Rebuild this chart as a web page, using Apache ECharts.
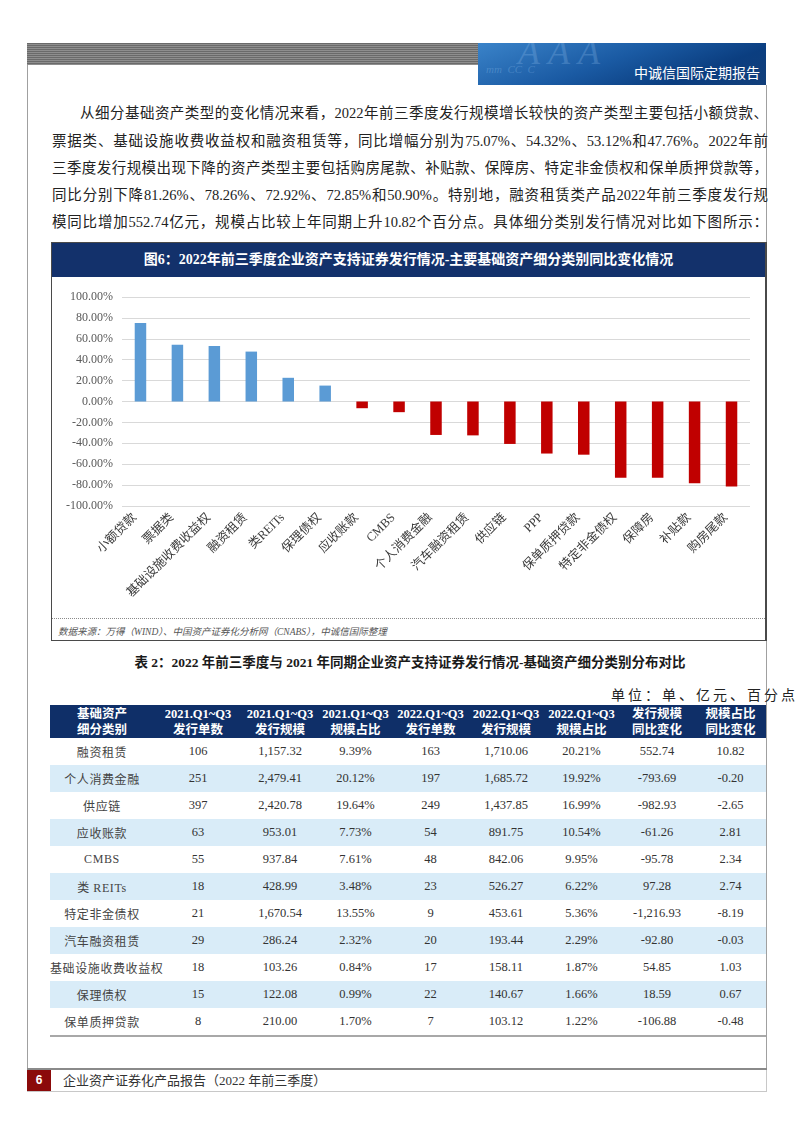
<!DOCTYPE html>
<html>
<head>
<meta charset="utf-8">
<script src="https://cdn.jsdelivr.net/npm/echarts@6/dist/echarts.min.js"></script>
<style>
  html, body { margin: 0; padding: 0; background: #fff; }
  body { width: 802px; height: 1133px; position: relative; overflow: hidden;
         font-family: 'Liberation Serif', 'Noto Sans CJK SC', serif; color: #222; }
  .abs { position: absolute; }
  .pline { position: absolute; left: 52px; width: 716px; height: 20px; line-height: 20px;
           font-size: 14.5px; text-align: justify; text-align-last: justify; white-space: nowrap; color: #222; }
  table.dt { position: absolute; left: 50px; top: 705px; width: 716px; border-collapse: collapse; table-layout: fixed; }
  table.dt td, table.dt th { padding: 0; text-align: center; vertical-align: middle; white-space: nowrap; overflow: visible; }
  table.dt th { background: #0f2f68; color: #fff; font-weight: bold; font-size: 12.5px; line-height: 16px; height: 33px; }
  table.dt td { height: 27px; font-size: 12.5px; color: #333; }
  table.dt tr.alt td { background: #d9ecf8; }
  table.dt tr.last td { border-bottom: 2px solid #a8a8a8; }
</style>
</head>
<body>
<!-- header -->
<div class="abs" style="left:27px;top:43px;width:451px;height:22px;background:repeating-linear-gradient(to bottom,#6a6a6a 0px,#6a6a6a 1px,#8e8e8e 1px,#8e8e8e 2px);"></div>
<div class="abs" style="left:478px;top:43px;width:288px;height:42px;overflow:hidden;background:linear-gradient(160deg,#3a83c9 0%,#1a5aa3 45%,#0b3e80 75%,#123f7a 100%);">
  <div class="abs" style="left:40px;top:-12px;font-size:36px;font-style:italic;color:rgba(150,195,240,0.25);letter-spacing:8px;">AAA</div>
  <div class="abs" style="left:8px;top:20px;font-size:11px;font-style:italic;color:rgba(150,195,240,0.3);">mm&nbsp;&nbsp;CC&nbsp;&nbsp;C</div>
  <div class="abs" style="right:6px;top:20px;font-size:14px;color:#fff;line-height:18px;font-family:'Noto Sans CJK SC';">中诚信国际定期报告</div>
</div>
<div class="abs" style="left:27px;top:65px;width:1px;height:1026px;background:#a0a0a0;"></div>
<div class="abs" style="left:766px;top:85px;width:1px;height:985px;background:#a0a0a0;"></div>

<!-- paragraph -->
<div class="pline" style="top:103px;left:80px;width:688px;">从细分基础资产类型的变化情况来看，2022年前三季度发行规模增长较快的资产类型主要包括小额贷款、</div>
<div class="pline" style="top:131px;">票据类、基础设施收费收益权和融资租赁等，同比增幅分别为75.07%、54.32%、53.12%和47.76%。2022年前</div>
<div class="pline" style="top:158px;">三季度发行规模出现下降的资产类型主要包括购房尾款、补贴款、保障房、特定非金债权和保单质押贷款等，</div>
<div class="pline" style="top:185px;">同比分别下降81.26%、78.26%、72.92%、72.85%和50.90%。特别地，融资租赁类产品2022年前三季度发行规</div>
<div class="pline" style="top:212px;">模同比增加552.74亿元，规模占比较上年同期上升10.82个百分点。具体细分类别发行情况对比如下图所示：</div>

<!-- chart box -->
<div class="abs" style="left:51px;top:242px;width:713px;height:397px;border:1px solid #4a4a4a;border-right-width:2px;"></div>
<div class="abs" style="left:52px;top:243px;width:713px;height:34px;background:#13316b;color:#fff;font-weight:bold;font-size:14px;line-height:34px;text-align:center;">图6：2022年前三季度企业资产支持证券发行情况-主要基础资产细分类别同比变化情况</div>
<div id="chart" class="abs" style="left:51px;top:277px;width:715px;height:341px;"></div>
<div class="abs" style="left:52px;top:618px;width:713px;height:0;border-top:1px dotted #8a8a8a;"></div>
<div class="abs" style="left:58px;top:625px;font-size:9.5px;font-style:italic;color:#555;line-height:14px;">数据来源：万得（WIND）、中国资产证券化分析网（CNABS），中诚信国际整理</div>

<!-- table title -->
<div class="abs" style="left:0;width:820px;top:654px;text-align:center;font-weight:bold;font-size:13.5px;line-height:18px;color:#1a1a1a;">表 2：2022 年前三季度与 2021 年同期企业资产支持证券发行情况-基础资产细分类别分布对比</div>
<div class="abs" style="right:4px;top:687px;font-size:14px;line-height:18px;letter-spacing:3px;color:#222;">单位：单、亿元、百分点</div>
<table class="dt" id="dt"></table>

<!-- footer -->
<div class="abs" style="left:27px;top:1068px;width:740px;height:2px;background:#8a8a8a;"></div>
<div class="abs" style="left:27px;width:740px;height:1px;top:1091px;background:#c8c8c8;"></div>
<div class="abs" style="left:766px;top:1070px;width:1px;height:21px;background:#c8c8c8;"></div>
<div class="abs" style="left:27px;top:1070px;width:24px;height:21px;background:#8b0a0a;color:#fff;font-weight:bold;font-size:12px;line-height:21px;text-align:center;font-family:'Liberation Sans';">6</div>
<div class="abs" style="left:63px;top:1072px;font-size:13px;line-height:18px;color:#333;">企业资产证券化产品报告（2022 年前三季度）</div>

<script>
// ---- chart data ----
const categories = ['小额贷款','票据类','基础设施收费收益权','融资租赁','类REITs','保理债权','应收账款','CMBS','个人消费金融','汽车融资租赁','供应链','PPP','保单质押贷款','特定非金债权','保障房','补贴款','购房尾款'];
const yoyChange = [75.07, 54.32, 53.12, 47.76, 22.68, 15.23, -6.43, -10.21, -32.01, -32.42, -40.60, -49.80, -50.90, -72.85, -72.92, -78.26, -81.26];
const yTickMin = -100, yTickMax = 100, yTickStep = 20;

// ---- table data ----
const headerTop = ['基础资产','2021.Q1~Q3','2021.Q1~Q3','2021.Q1~Q3','2022.Q1~Q3','2022.Q1~Q3','2022.Q1~Q3','发行规模','规模占比'];
const headerBottom = ['细分类别','发行单数','发行规模','规模占比','发行单数','发行规模','规模占比','同比变化','同比变化'];
const assetTypes = ['融资租赁','个人消费金融','供应链','应收账款','CMBS','类 REITs','特定非金债权','汽车融资租赁','基础设施收费收益权','保理债权','保单质押贷款'];
const count2021 = [106, 251, 397, 63, 55, 18, 21, 29, 18, 15, 8];
const scale2021 = [1157.32, 2479.41, 2420.78, 953.01, 937.84, 428.99, 1670.54, 286.24, 103.26, 122.08, 210.00];
const share2021 = [9.39, 20.12, 19.64, 7.73, 7.61, 3.48, 13.55, 2.32, 0.84, 0.99, 1.70];
const count2022 = [163, 197, 249, 54, 48, 23, 9, 20, 17, 22, 7];
const scale2022 = [1710.06, 1685.72, 1437.85, 891.75, 842.06, 526.27, 453.61, 193.44, 158.11, 140.67, 103.12];
const share2022 = [20.21, 19.92, 16.99, 10.54, 9.95, 6.22, 5.36, 2.29, 1.87, 1.66, 1.22];
const scaleChange = [552.74, -793.69, -982.93, -61.26, -95.78, 97.28, -1216.93, -92.80, 54.85, 18.59, -106.88];
const shareChange = [10.82, -0.20, -2.65, 2.81, 2.34, 2.74, -8.19, -0.03, 1.03, 0.67, -0.48];

const colWidths = [104, 88, 76, 75, 75, 76, 75, 76, 71];

// build table
(function(){
  const t = document.getElementById('dt');
  const cg = document.createElement('colgroup');
  colWidths.forEach(w => { const c = document.createElement('col'); c.style.width = w + 'px'; cg.appendChild(c); });
  t.appendChild(cg);
  const hr = document.createElement('tr');
  headerTop.forEach((h, i) => { const th = document.createElement('th'); th.innerHTML = h + '<br>' + headerBottom[i]; hr.appendChild(th); });
  t.appendChild(hr);
  const f2 = v => v.toLocaleString('en-US', {minimumFractionDigits: 2, maximumFractionDigits: 2});
  assetTypes.forEach((a, i) => {
    const tr = document.createElement('tr');
    if (i % 2 === 1) tr.className = 'alt';
    if (i === assetTypes.length - 1) tr.className += ' last';
    const cells = [a, String(count2021[i]), f2(scale2021[i]), share2021[i].toFixed(2) + '%', String(count2022[i]), f2(scale2022[i]), share2022[i].toFixed(2) + '%', f2(scaleChange[i]), shareChange[i].toFixed(2)];
    cells.forEach((c, j) => {
      const td = document.createElement('td');
      td.textContent = c;
      if (j === 0) { td.style.letterSpacing = '0.6px'; td.style.fontSize = '12px'; td.style.color = '#444'; }
      tr.appendChild(td);
    });
    t.appendChild(tr);
  });
})();

// chart
const chart = echarts.init(document.getElementById('chart'), null, {renderer: 'canvas'});
chart.setOption({
  animation: false,
  grid: { left: 71, right: 16, top: 20, bottom: 112 },
  xAxis: {
    type: 'category',
    data: categories,
    axisLine: { show: false },
    axisTick: { show: false },
    axisLabel: {
      interval: 0, rotate: 45, margin: 4,
      padding: [0, 8, 0, 0],
      fontSize: 12.5, color: '#3a3a3a',
      fontFamily: "'Liberation Serif','Noto Sans CJK SC'"
    }
  },
  yAxis: {
    type: 'value',
    min: yTickMin, max: yTickMax, interval: yTickStep,
    axisLine: { show: false },
    axisTick: { show: false },
    splitLine: { lineStyle: { color: '#d9d9d9', width: 1 } },
    axisLabel: {
      margin: 9, fontSize: 12, color: '#595959',
      fontFamily: "'Liberation Serif'",
      formatter: v => v.toFixed(2) + '%'
    }
  },
  series: [{
    type: 'bar',
    data: yoyChange,
    barWidth: 11.5,
    itemStyle: { color: p => p.value >= 0 ? '#5b9bd5' : '#c00000' }
  }]
});
</script>
</body>
</html>
